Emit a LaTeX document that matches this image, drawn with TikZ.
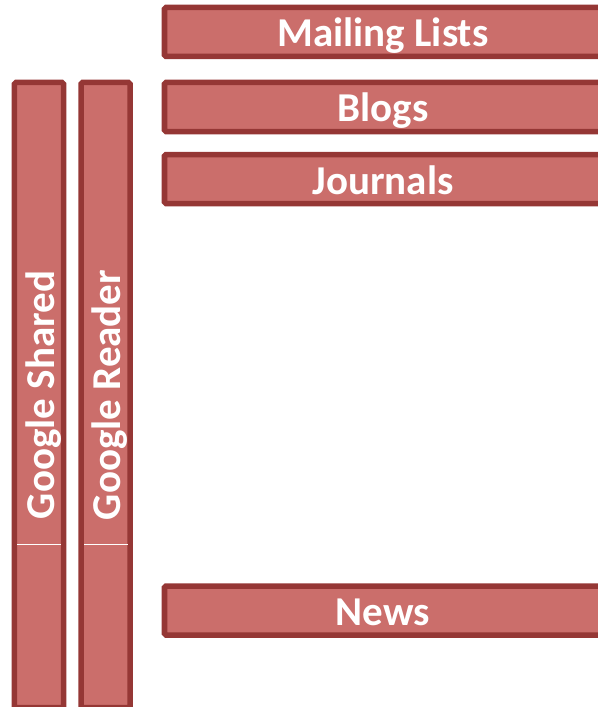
\documentclass[tikz,border=0pt]{standalone}
\usepackage{fontspec}
\setmainfont{Carlito}
\usetikzlibrary{positioning}

\definecolor{barfill}{HTML}{CB6E6B}
\definecolor{bardraw}{HTML}{953735}

\begin{document}
\begin{tikzpicture}[x=1bp, y=-1bp,
  every node/.style={rectangle, draw=bardraw, fill=barfill, line width=5.5bp,
    rounded corners=1.5bp, inner sep=0pt, text=white,
    font=\fontsize{41bp}{48bp}\selectfont\bfseries,
    text height=30bp, text depth=0pt},
  hbar/.style={minimum width=437bp, minimum height=49bp},
  vbar/.style={rotate=90, minimum width=625bp, minimum height=49bp}]

\useasboundingbox (0,0) rectangle (598,707);

% Sources along the top and bottom.

\node[hbar] (mail) at (383,32) {Mailing Lists};
\node[hbar] (blogs) at (383,107) {Blogs};
\node[hbar] (journals) at (383,179) {Journals};
\node[hbar] (news) at (383,610.5) {News};

% The two readers down the left.

\node[vbar] (shared) at (39,395) {Google Shared};
\node[vbar] (reader) at (105.5,395) {Google Reader};

\draw[white, line width=1bp] (17,544) -- (61,544);
\draw[white, line width=1bp] (84,544) -- (128,544);

\end{tikzpicture}
\end{document}
